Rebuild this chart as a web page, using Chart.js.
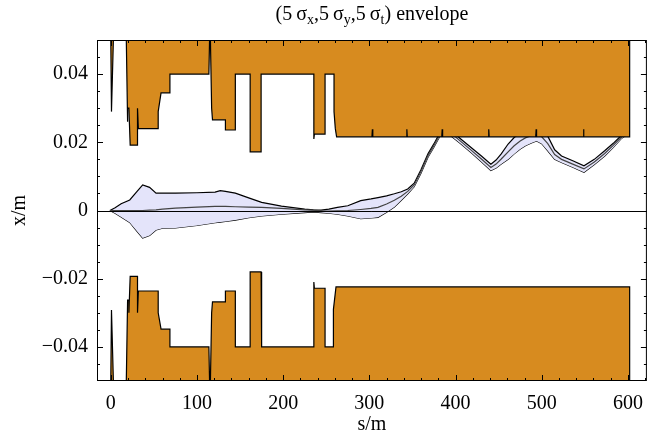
<!DOCTYPE html>
<html>
<head>
<meta charset="utf-8">
<script src="https://cdn.jsdelivr.net/npm/chart.js@4.4.1/dist/chart.umd.min.js"></script>
<style>
  body { margin: 0; background: #fff; }
  #wrap { width: 654px; height: 439px; }
</style>
</head>
<body>
<div id="wrap"><canvas id="envelope-chart" width="654" height="439"></canvas></div>
<script>
// Axis ranges and tick labels
const xMin = -16, xMax = 622;
const yMin = -0.05, yMax = 0.05;
const xTicks = [0, 100, 200, 300, 400, 500, 600];
const xTickLabels = ['0', '100', '200', '300', '400', '500', '600'];
const yTicks = [-0.04, -0.02, 0, 0.02, 0.04];
const yTickLabels = ['\u22120.04', '\u22120.02', '0', '0.02', '0.04'];

// Upper aperture (s, x) - 0.05 means open / off the plot
const apUpS = [-1, 0, 0.8, 3, 18, 19.5, 19.5, 21, 22.5, 31, 31, 32, 55, 55, 58.3, 68.6, 68.6, 113.8, 114.6, 115.6, 117, 118, 133, 133, 144.5, 144.5, 161.7, 161.7, 174.4, 174.4, 235.6, 235.6, 236.2, 248.6, 248.6, 259, 259, 260.5, 262, 303, 303.5, 304, 343, 343.5, 344, 384, 384.5, 385, 438, 438.5, 439, 493, 493.5, 494, 548, 548.5, 549, 602, 602];
const apUpX = [0.05, 0.05, 0.029, 0.05, 0.05, 0.026, 0.030, 0.030, 0.0192, 0.0192, 0.030, 0.024, 0.024, 0.029, 0.0345, 0.0345, 0.040, 0.040, 0.05, 0.05, 0.030, 0.0266, 0.0266, 0.0236, 0.0236, 0.040, 0.040, 0.0172, 0.0172, 0.040, 0.040, 0.021, 0.0224, 0.0224, 0.040, 0.040, 0.029, 0.024, 0.0216, 0.0216, 0.0238, 0.0216, 0.0216, 0.0238, 0.0216, 0.0216, 0.0238, 0.0216, 0.0216, 0.0238, 0.0216, 0.0216, 0.0238, 0.0216, 0.0216, 0.0238, 0.0216, 0.0216, 0.05];

// Lower aperture (s, x)
const apLoS = [-1, 0, 0.8, 3, 18, 19.5, 21, 21, 22.5, 31, 31, 32, 55, 55, 58.3, 68.6, 68.6, 113.8, 114.6, 115.6, 117, 118, 133, 133, 144.5, 144.5, 161.7, 161.7, 174.4, 175, 235.6, 235.6, 236.2, 248.6, 248.6, 258.3, 258.3, 261.3, 602, 602];
const apLoX = [-0.05, -0.05, -0.0292, -0.05, -0.05, -0.0263, -0.0263, -0.030, -0.0193, -0.0193, -0.030, -0.0236, -0.0236, -0.030, -0.0348, -0.0348, -0.040, -0.040, -0.05, -0.05, -0.030, -0.0268, -0.0268, -0.0236, -0.0236, -0.040, -0.040, -0.018, -0.018, -0.040, -0.040, -0.021, -0.0228, -0.0228, -0.040, -0.040, -0.029, -0.0224, -0.0224, -0.05];

// Beam envelope: shared s positions, upper / lower edge and closed orbit
const envS = [-1, 5, 12, 22, 29.5, 37, 45, 52.5, 60, 75, 100, 121, 127, 133, 144.5, 160, 175, 198, 225, 235, 244, 253, 263, 275, 290, 302, 310, 320, 329, 337, 344.5, 352, 360, 368, 375, 381, 388, 393, 405, 418, 430, 441, 447, 453, 461, 468, 475, 481, 488, 494, 500, 507, 515, 523, 536, 549, 561, 573, 583, 592, 600];
const envUpper = [0, 0.0008, 0.002, 0.0031, 0.0053, 0.0075, 0.0068, 0.0051, 0.0051, 0.0051, 0.0052, 0.0054, 0.0058, 0.0056, 0.0051, 0.0037, 0.0024, 0.0013, 0.0004, 0.0002, 0.0001, 0.0004, 0.0009, 0.0014, 0.0029, 0.0034, 0.0038, 0.0043, 0.0049, 0.0055, 0.0063, 0.0080, 0.0120, 0.0166, 0.0196, 0.0224, 0.0260, 0.0240, 0.0212, 0.0185, 0.0160, 0.0136, 0.0148, 0.0166, 0.0195, 0.0214, 0.0228, 0.0236, 0.0242, 0.0244, 0.0236, 0.0218, 0.0178, 0.0160, 0.0146, 0.0131, 0.0150, 0.0175, 0.0197, 0.0219, 0.0235];
const envLower = [0, -0.0008, -0.0019, -0.0035, -0.0058, -0.0081, -0.0073, -0.0057, -0.0052, -0.0051, -0.0044, -0.0036, -0.0034, -0.0032, -0.0028, -0.0021, -0.0016, -0.0011, -0.0006, -0.0004, -0.0006, -0.0008, -0.0011, -0.0016, -0.0024, -0.0022, -0.0020, -0.0005, 0.0010, 0.0030, 0.0049, 0.0070, 0.0110, 0.0156, 0.0186, 0.0214, 0.0240, 0.0222, 0.0198, 0.0170, 0.0143, 0.0117, 0.0125, 0.0136, 0.0150, 0.0166, 0.0180, 0.0190, 0.0198, 0.0204, 0.0196, 0.0175, 0.0150, 0.0141, 0.0127, 0.0112, 0.0135, 0.0160, 0.0185, 0.0210, 0.0225];
const envOrbit = [0, 0, 0, 0, 0, 0, 0.0001, 0.0002, 0.0004, 0.0007, 0.0010, 0.0012, 0.0012, 0.0012, 0.0011, 0.0010, 0.0009, 0.0006, 0.0002, 0.0001, -0.0001, -0.0002, -0.0001, 0, 0.0003, 0.0006, 0.0009, 0.0019, 0.0030, 0.0042, 0.0056, 0.0075, 0.0115, 0.0161, 0.0191, 0.0219, 0.0245, 0.0231, 0.0205, 0.0177, 0.0151, 0.0126, 0.0136, 0.0151, 0.0172, 0.0190, 0.0204, 0.0213, 0.0220, 0.0224, 0.0216, 0.0196, 0.0164, 0.0150, 0.0136, 0.0122, 0.0142, 0.0167, 0.0191, 0.0214, 0.0230];

const FONT = "'Liberation Serif', 'DejaVu Serif', serif";
const FONT_SIZE = 20;
const ORANGE = 'rgb(215, 139, 31)';
const LAVENDER = 'rgb(228, 228, 250)';

function toPoints(xs, ys) {
    return xs.map((x, i) => ({ x: x, y: ys[i] }));
}

// Frame, inward ticks, zero axis, title and axis labels (Mathematica style)
const framePlugin = {
    id: 'framePlugin',
    afterDatasetsDraw(chart) {
        const ctx = chart.ctx;
        const a = chart.chartArea;
        const y0 = chart.scales.y.getPixelForValue(0);
        ctx.save();
        ctx.strokeStyle = '#000';
        ctx.lineWidth = 1;
        ctx.beginPath();
        ctx.moveTo(a.left, Math.round(y0) + 0.5);
        ctx.lineTo(a.right, Math.round(y0) + 0.5);
        ctx.stroke();
        ctx.restore();
    },
    afterDraw(chart) {
        const ctx = chart.ctx;
        const a = chart.chartArea;
        const xs = chart.scales.x, ys = chart.scales.y;
        ctx.save();
        ctx.strokeStyle = '#000';
        ctx.lineWidth = 1;
        ctx.strokeRect(a.left + 0.5, a.top + 0.5, a.right - a.left - 1, a.bottom - a.top - 1);

        ctx.beginPath();
        // x ticks (bottom and top), major every 100, minor every 20
        for (let v = 0; v <= xMax; v += 20) {
            const px = Math.round(xs.getPixelForValue(v)) + 0.5;
            const len = (v % 100 === 0) ? 6 : 3;
            ctx.moveTo(px, a.bottom); ctx.lineTo(px, a.bottom - len);
            ctx.moveTo(px, a.top); ctx.lineTo(px, a.top + len);
        }
        // y ticks (left and right), major every 0.02, minor every 0.005
        for (let k = -10; k <= 10; k++) {
            const v = k * 0.005;
            if (v <= yMin + 1e-9 || v >= yMax - 1e-9) continue;
            const py = Math.round(ys.getPixelForValue(v)) + 0.5;
            const len = (k % 4 === 0) ? 6 : 3;
            ctx.moveTo(a.left, py); ctx.lineTo(a.left + len, py);
            ctx.moveTo(a.right, py); ctx.lineTo(a.right - len, py);
        }
        ctx.stroke();

        // Title with subscripts
        const parts = [['(5\u2009\u03C3', 0], ['x', 1], [',5\u2009\u03C3', 0], ['y', 1], [',5\u2009\u03C3', 0], ['t', 1], [') envelope', 0]];
        const bigFont = FONT_SIZE + 'px ' + FONT, smallFont = '14px ' + FONT;
        let total = 0;
        parts.forEach(p => { ctx.font = p[1] ? smallFont : bigFont; total += ctx.measureText(p[0]).width; });
        let cx = (a.left + a.right) / 2 - total / 2;
        const base = 20;
        ctx.fillStyle = '#000';
        ctx.textBaseline = 'alphabetic';
        ctx.textAlign = 'left';
        parts.forEach(p => {
            ctx.font = p[1] ? smallFont : bigFont;
            ctx.fillText(p[0], cx, base + (p[1] ? 4 : 0));
            cx += ctx.measureText(p[0]).width;
        });

        // Axis titles
        ctx.font = FONT_SIZE + 'px ' + FONT;
        ctx.textAlign = 'center';
        ctx.textBaseline = 'middle';
        ctx.fillText('s/m', (a.left + a.right) / 2, 425);
        ctx.translate(20, (a.top + a.bottom) / 2);
        ctx.rotate(-Math.PI / 2);
        ctx.fillText('x/m', 0, 0);
        ctx.restore();
    }
};

const lineStyle = { showLine: true, pointRadius: 0, tension: 0, borderWidth: 1.2 };

const chart = new Chart(document.getElementById('envelope-chart'), {
    type: 'scatter',
    data: {
        datasets: [
            // apertures drawn on top of the envelope
            Object.assign({ data: toPoints(apUpS, apUpX), borderColor: '#000', backgroundColor: ORANGE, fill: 'end' }, lineStyle),
            Object.assign({ data: toPoints(apLoS, apLoX), borderColor: '#000', backgroundColor: ORANGE, fill: 'start' }, lineStyle),
            Object.assign({ data: toPoints(envS, envOrbit), borderColor: '#444', fill: false }, lineStyle),
            Object.assign({ data: toPoints(envS, envUpper), borderColor: '#000', backgroundColor: LAVENDER, fill: '+1' }, lineStyle),
            Object.assign({ data: toPoints(envS, envLower), borderColor: '#000', fill: false }, lineStyle)
        ]
    },
    options: {
        responsive: false,
        animation: false,
        layout: { padding: { left: 0, top: 40, right: 2, bottom: 0 } },
        plugins: { legend: { display: false }, tooltip: { enabled: false } },
        scales: {
            x: {
                type: 'linear', min: xMin, max: xMax,
                grid: { display: false, drawTicks: false },
                border: { display: false },
                afterBuildTicks: s => { s.ticks = xTicks.map(v => ({ value: v })); },
                afterFit: s => { s.height = 58; },
                ticks: {
                    padding: 11, color: '#000', maxRotation: 0, autoSkip: false,
                    font: { family: FONT, size: FONT_SIZE },
                    callback: (v, i) => xTickLabels[i]
                }
            },
            y: {
                type: 'linear', min: yMin, max: yMax,
                grid: { display: false, drawTicks: false },
                border: { display: false },
                afterBuildTicks: s => { s.ticks = yTicks.map(v => ({ value: v })); },
                afterFit: s => { s.width = 97; },
                ticks: {
                    padding: 9, color: '#000', autoSkip: false,
                    font: { family: FONT, size: FONT_SIZE },
                    callback: (v, i) => yTickLabels[i]
                }
            }
        }
    },
    plugins: [framePlugin]
});
</script>
</body>
</html>
